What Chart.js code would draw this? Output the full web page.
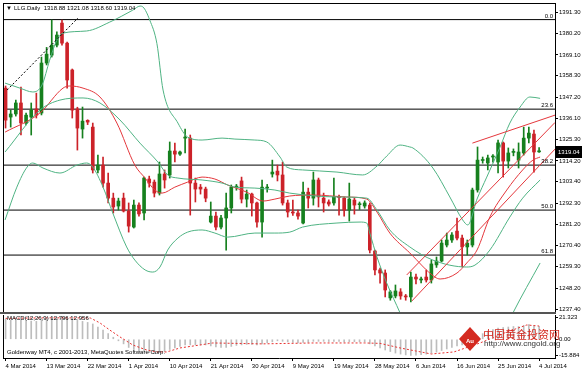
<!DOCTYPE html>
<html>
<head>
<meta charset="utf-8">
<script src="https://cdn.jsdelivr.net/npm/chart.js@4.4.1/dist/chart.umd.min.js"></script>
<style>
  body { margin: 0; background: #fff; }
  #wrap { position: relative; width: 582px; height: 371px; overflow: hidden; }
  canvas { position: absolute; left: 0; }
</style>
</head>
<body>
<div id="wrap">
  <canvas id="main" width="582" height="314" style="top:0"></canvas>
  <canvas id="macd" width="582" height="57" style="top:314px"></canvas>
</div>
<script>
const FONT = "'Liberation Sans', Arial, sans-serif";
const GREEN = '#16801e', RED = '#cc2229', BAND = '#4fb383', MA = '#e4373c';

// daily candles 4 Mar 2014 .. 4 Jul 2014
const opens = [
  1351.9, 1336.9, 1338.5, 1344.2, 1333.8, 1336.9, 1341.1, 1339.0, 1364.9, 1369.0,
  1374.2, 1385.6, 1375.2, 1361.3, 1341.1, 1330.7, 1335.2, 1331.7, 1309.5, 1312.0,
  1302.7, 1294.9, 1290.8, 1294.9, 1288.2, 1279.9, 1291.3, 1287.2, 1304.8, 1303.2,
  1297.5, 1307.4, 1306.9, 1319.3, 1317.7, 1326.0, 1326.0, 1302.7, 1300.6, 1299.6,
  1282.5, 1285.6, 1279.9, 1284.6, 1289.8, 1300.6, 1303.8, 1294.4, 1297.0, 1292.4,
  1282.5, 1300.1, 1307.4, 1308.9, 1306.9, 1292.4, 1287.7, 1287.2, 1282.0, 1298.0,
  1294.9, 1304.3, 1294.9, 1292.9, 1292.4, 1295.8, 1294.9, 1288.7, 1293.9, 1291.5,
  1290.8, 1291.3, 1267.5, 1257.7, 1256.1, 1243.2, 1244.2, 1246.3, 1243.9, 1243.7,
  1254.0, 1252.5, 1254.0, 1252.5, 1260.3, 1262.3, 1270.6, 1273.2, 1277.8, 1274.2,
  1269.6, 1270.6, 1299.1, 1314.4, 1313.1, 1316.2, 1313.6, 1323.5, 1314.1, 1318.6,
  1314.6, 1318.3, 1326.0, 1328.1, 1318.88
];
const highs = [
  1353.0, 1340.5, 1345.7, 1352.5, 1339.0, 1344.2, 1349.3, 1368.0, 1373.0, 1387.2,
  1381.0, 1387.2, 1375.7, 1361.8, 1342.0, 1342.1, 1335.5, 1333.8, 1317.2, 1316.2,
  1307.9, 1297.5, 1294.9, 1297.5, 1292.4, 1293.9, 1292.4, 1305.8, 1306.3, 1304.3,
  1313.6, 1309.5, 1324.0, 1323.4, 1319.3, 1330.7, 1327.6, 1305.3, 1302.0, 1300.6,
  1292.9, 1287.7, 1286.0, 1297.5, 1301.7, 1302.0, 1305.8, 1299.1, 1297.5, 1292.9,
  1304.3, 1302.0, 1314.6, 1312.0, 1313.6, 1293.9, 1293.9, 1288.7, 1303.2, 1300.1,
  1308.4, 1305.3, 1297.5, 1294.0, 1305.3, 1296.5, 1295.5, 1302.7, 1294.9, 1292.9,
  1293.5, 1292.4, 1268.0, 1258.7, 1257.7, 1247.0, 1249.9, 1248.0, 1245.0, 1256.6,
  1255.6, 1254.0, 1257.7, 1262.8, 1264.4, 1273.2, 1276.8, 1277.0, 1284.6, 1275.8,
  1273.2, 1300.1, 1321.4, 1316.2, 1317.2, 1317.4, 1325.0, 1324.0, 1320.9, 1320.4,
  1323.5, 1331.7, 1331.7, 1330.2, 1321.08
];
const lows = [
  1331.2, 1331.7, 1337.4, 1327.6, 1332.8, 1327.6, 1336.4, 1338.0, 1363.9, 1368.0,
  1373.2, 1374.2, 1351.9, 1336.4, 1319.8, 1326.0, 1333.0, 1307.9, 1307.9, 1300.6,
  1292.4, 1287.2, 1288.7, 1287.7, 1277.3, 1279.4, 1285.6, 1283.6, 1300.6, 1295.5,
  1296.5, 1300.1, 1305.3, 1313.6, 1317.0, 1318.3, 1286.1, 1292.9, 1297.0, 1293.0,
  1282.0, 1278.4, 1279.0, 1268.0, 1287.2, 1299.0, 1292.4, 1290.3, 1285.6, 1279.9,
  1274.7, 1298.0, 1305.8, 1303.8, 1291.3, 1285.1, 1286.0, 1284.0, 1281.5, 1289.8,
  1291.3, 1290.3, 1287.7, 1290.8, 1291.3, 1286.1, 1285.6, 1283.0, 1286.6, 1289.0,
  1289.7, 1266.5, 1255.1, 1250.9, 1243.7, 1242.0, 1243.2, 1242.5, 1242.0, 1241.1,
  1250.4, 1251.0, 1251.4, 1250.9, 1259.0, 1261.8, 1269.6, 1272.0, 1273.2, 1259.2,
  1265.4, 1269.6, 1298.0, 1313.0, 1309.5, 1313.5, 1307.9, 1305.8, 1310.5, 1316.8,
  1310.5, 1317.2, 1323.5, 1308.4, 1318.60
];
const closes = [
  1335.3, 1338.5, 1344.2, 1333.8, 1337.9, 1340.5, 1337.9, 1364.9, 1369.5, 1374.2,
  1379.4, 1375.2, 1356.1, 1340.5, 1331.2, 1334.8, 1334.3, 1309.5, 1312.0, 1302.7,
  1294.9, 1290.3, 1293.4, 1288.2, 1280.4, 1291.3, 1286.7, 1305.3, 1302.7, 1297.5,
  1307.4, 1304.3, 1319.3, 1317.7, 1318.8, 1326.2, 1302.7, 1299.6, 1299.6, 1294.9,
  1285.6, 1279.9, 1284.6, 1289.8, 1300.6, 1301.0, 1294.4, 1297.0, 1292.4, 1282.5,
  1300.6, 1300.6, 1308.4, 1306.9, 1292.4, 1287.7, 1287.2, 1285.6, 1298.0, 1294.9,
  1304.3, 1295.5, 1292.4, 1291.8, 1295.5, 1295.2, 1288.7, 1294.4, 1291.3, 1291.8,
  1292.4, 1268.0, 1257.7, 1256.1, 1247.3, 1246.3, 1246.8, 1244.2, 1243.7, 1254.0,
  1253.0, 1252.8, 1252.5, 1260.8, 1262.3, 1271.6, 1273.2, 1275.8, 1274.2, 1269.6,
  1271.6, 1299.1, 1314.6, 1314.9, 1315.7, 1316.5, 1323.5, 1314.1, 1318.3, 1319.0,
  1318.8, 1326.0, 1328.6, 1318.8, 1319.04
];

// x-axis dates (bar index -> label)
const dateIdx = [0, 8, 16, 24, 32, 40, 48, 56, 64, 72, 80, 88, 96, 104];
const dateLabels = ['4 Mar 2014', '13 Mar 2014', '22 Mar 2014', '1 Apr 2014', '10 Apr 2014', '21 Apr 2014',
  '30 Apr 2014', '9 May 2014', '19 May 2014', '28 May 2014', '6 Jun 2014', '16 Jun 2014', '25 Jun 2014', '4 Jul 2014'];
const priceTicks = [1391.30, 1380.20, 1369.10, 1358.30, 1347.20, 1336.10, 1325.30, 1314.20,
  1303.40, 1292.30, 1281.20, 1270.40, 1259.30, 1248.20, 1237.40];

// fibonacci retracement levels
const fibLevels = [1387.4, 1341.0, 1312.0, 1288.7, 1265.4];
const fibLabels = ['0.0', '23.6', '38.2', '50.0', '61.8'];

// indicator curves (bar index, price)
const bbUpper = [
  {x: -0.1, y: 1354.5}, {x: 2.8, y: 1351.9}, {x: 5.3, y: 1349.9}, {x: 7.1, y: 1353.5}, {x: 8.6, y: 1366.4},
  {x: 10.0, y: 1376.8}, {x: 11.2, y: 1380.4}, {x: 15.8, y: 1381.5}, {x: 20.3, y: 1386.1}, {x: 24.8, y: 1392.3},
  {x: 26.2, y: 1394.4}, {x: 26.8, y: 1393.9}, {x: 28.1, y: 1387.2}, {x: 29.5, y: 1375.0}, {x: 30.7, y: 1350.9},
  {x: 33.6, y: 1333.8}, {x: 35.5, y: 1326.5}, {x: 38.3, y: 1325.0}, {x: 42.2, y: 1326.0}, {x: 44.7, y: 1325.5},
  {x: 48.6, y: 1325.0}, {x: 50.9, y: 1324.0}, {x: 53.5, y: 1316.2}, {x: 54.8, y: 1311.0}, {x: 57.9, y: 1309.5},
  {x: 64.6, y: 1308.4}, {x: 69.6, y: 1306.9}, {x: 72.4, y: 1311.5}, {x: 74.3, y: 1316.7}, {x: 76.9, y: 1322.4},
  {x: 78.8, y: 1321.4}, {x: 79.4, y: 1320.9}, {x: 83.3, y: 1310.5}, {x: 86.6, y: 1295.5}, {x: 89.1, y: 1283.6},
  {x: 90.1, y: 1281.0}, {x: 91.9, y: 1294.4}, {x: 93.8, y: 1305.8}, {x: 96.4, y: 1321.4}, {x: 98.3, y: 1333.8},
  {x: 100.3, y: 1342.1}, {x: 102.2, y: 1347.3}, {x: 104.2, y: 1346.6}
];
const bbMiddle = [
  {x: -0.1, y: 1318.8}, {x: 6.7, y: 1340.5}, {x: 10.6, y: 1345.7}, {x: 15.1, y: 1346.8}, {x: 18.4, y: 1344.2},
  {x: 22.3, y: 1335.4}, {x: 26.2, y: 1323.4}, {x: 29.7, y: 1313.6}, {x: 31.6, y: 1306.9}, {x: 33.6, y: 1305.3},
  {x: 38.3, y: 1304.3}, {x: 42.2, y: 1302.7}, {x: 44.7, y: 1300.6}, {x: 48.6, y: 1300.1}, {x: 52.5, y: 1299.1},
  {x: 55.4, y: 1297.5}, {x: 64.6, y: 1295.5}, {x: 70.4, y: 1294.9}, {x: 72.4, y: 1288.7}, {x: 74.9, y: 1278.4},
  {x: 78.8, y: 1269.6}, {x: 83.3, y: 1262.8}, {x: 89.9, y: 1259.2}, {x: 91.5, y: 1260.2}, {x: 94.4, y: 1268.0},
  {x: 98.3, y: 1285.1}, {x: 100.8, y: 1294.9}, {x: 104.2, y: 1304.3}
];
const bbLower = [
  {x: -0.1, y: 1283.6}, {x: 2.2, y: 1300.6}, {x: 4.2, y: 1311.0}, {x: 5.3, y: 1313.1}, {x: 7.3, y: 1310.5},
  {x: 10.6, y: 1307.9}, {x: 13.9, y: 1312.0}, {x: 15.8, y: 1313.1}, {x: 17.0, y: 1311.0}, {x: 19.0, y: 1300.6},
  {x: 20.9, y: 1287.2}, {x: 23.6, y: 1269.6}, {x: 25.2, y: 1262.8}, {x: 27.2, y: 1257.7}, {x: 28.7, y: 1256.6},
  {x: 30.1, y: 1259.2}, {x: 31.6, y: 1268.0}, {x: 33.6, y: 1274.2}, {x: 35.5, y: 1277.3}, {x: 38.3, y: 1278.4},
  {x: 40.8, y: 1276.8}, {x: 43.3, y: 1274.7}, {x: 48.6, y: 1276.8}, {x: 52.5, y: 1276.8}, {x: 55.4, y: 1277.3},
  {x: 57.9, y: 1279.9}, {x: 64.6, y: 1282.0}, {x: 69.1, y: 1282.5}, {x: 70.4, y: 1282.0}, {x: 71.0, y: 1276.8},
  {x: 72.4, y: 1264.4}, {x: 74.3, y: 1250.9}, {x: 76.9, y: 1235.4}, {x: 77.6, y: 1231.0}, {x: 88.0, y: null},
  {x: 98.3, y: 1232.0}, {x: 98.9, y: 1235.4}, {x: 104.2, y: 1261.3}
];
const maLine = [
  {x: -0.1, y: 1329.1}, {x: 6.7, y: 1339.0}, {x: 11.2, y: 1351.9}, {x: 12.5, y: 1353.0}, {x: 15.1, y: 1351.9},
  {x: 18.4, y: 1347.3}, {x: 21.7, y: 1333.8}, {x: 25.2, y: 1312.0}, {x: 27.2, y: 1305.3}, {x: 29.1, y: 1299.1},
  {x: 30.5, y: 1297.5}, {x: 33.0, y: 1300.6}, {x: 35.5, y: 1303.2}, {x: 38.3, y: 1305.8}, {x: 40.8, y: 1304.8},
  {x: 43.3, y: 1301.7}, {x: 47.0, y: 1298.0}, {x: 50.2, y: 1293.4}, {x: 52.5, y: 1294.4}, {x: 55.4, y: 1296.0},
  {x: 59.9, y: 1296.5}, {x: 66.5, y: 1295.5}, {x: 70.4, y: 1294.4}, {x: 72.4, y: 1287.7}, {x: 74.9, y: 1276.8},
  {x: 78.8, y: 1266.5}, {x: 83.7, y: 1254.0}, {x: 84.7, y: 1253.0}, {x: 88.0, y: 1256.1}, {x: 89.9, y: 1261.3},
  {x: 91.9, y: 1268.0}, {x: 94.4, y: 1285.1}, {x: 97.7, y: 1299.1}, {x: 100.8, y: 1309.5}, {x: 102.8, y: 1314.6},
  {x: 104.2, y: 1316.2}
];

// hand-drawn trend lines (bar index, price)
const trendTop = [{x: 91.0, y: 1323.4}, {x: 107.1, y: 1337.9}];
const channelA = [{x: 78.2, y: 1255.1}, {x: 107.1, y: 1334.1}];
const channelB = [{x: 79.2, y: 1241.6}, {x: 107.1, y: 1320.3}];
const dashTrend = [{x: 0.3, y: 1350.9}, {x: 14.1, y: 1388.2}];

// MACD(12,26,9)
const macdMain = [
  19.5, 19.0, 18.8, 18.5, 18.0, 17.8, 17.5, 19.0, 20.0, 21.0,
  21.3, 21.3, 20.5, 19.5, 18.5, 17.5, 16.5, 15.0, 12.0, 9.0,
  5.5, 2.0, -1.5, -4.5, -8.0, -10.0, -12.0, -12.5, -13.0, -13.5,
  -13.0, -12.0, -10.0, -8.5, -7.0, -5.5, -5.5, -5.5, -5.5, -5.5,
  -6.5, -7.5, -8.0, -8.0, -7.0, -6.0, -5.5, -5.0, -5.0, -5.5,
  -4.5, -3.5, -2.5, -1.5, -2.0, -2.5, -3.0, -3.5, -3.0, -3.0,
  -2.0, -2.0, -2.0, -2.2, -2.2, -2.2, -2.5, -2.3, -2.4, -2.5,
  -2.5, -4.5, -6.5, -8.5, -10.5, -12.0, -13.5, -14.5, -15.3, -15.884,
  -15.5, -15.0, -14.5, -13.5, -12.5, -11.0, -9.5, -8.0, -6.5, -5.5,
  -4.5, -1.0, 3.0, 5.5, 8.0, 9.5, 11.0, 11.5, 12.0, 12.5,
  12.5, 13.5, 14.5, 13.5, 12.796
];
const macdSignal = [
  {x: 0, y: 20.5}, {x: 8, y: 21.0}, {x: 16.5, y: 20.9}, {x: 18.4, y: 16.0}, {x: 20.3, y: 9.1},
  {x: 22.3, y: 2.3}, {x: 24.8, y: -5.6}, {x: 27.5, y: -10.5}, {x: 29.5, y: -12.4}, {x: 31.4, y: -12.4},
  {x: 34.0, y: -8.5}, {x: 37.9, y: -5.6}, {x: 40.4, y: -3.6}, {x: 50, y: -4.5}, {x: 60, y: -3.6},
  {x: 70, y: -3.6}, {x: 73, y: -4.0}, {x: 76.9, y: -8.5}, {x: 83, y: -14.4}, {x: 87.4, y: -12.4},
  {x: 92.5, y: -3.6}, {x: 97.7, y: 7.1}, {x: 101.6, y: 14.0}, {x: 104, y: 12.956}
];
const macdTicks = [21.323, 0, -15.884];

const X_MIN = -0.5, X_MAX = 107.1;
const last = closes.length - 1;
const candleColors = closes.map((c, i) => c >= opens[i] ? GREEN : RED);

const line = (data, color, extra) => Object.assign({
  type: 'line', data, borderColor: color, borderWidth: 1, pointRadius: 0, fill: false
}, extra || {});

const mainDeco = {
  id: 'mainDeco',
  afterDraw(chart) {
    const {ctx, chartArea: a, scales: {y}} = chart;
    ctx.save();
    ctx.strokeStyle = '#000';
    ctx.lineWidth = 1;
    ctx.beginPath();
    ctx.moveTo(a.left + 0.5, a.top);
    ctx.lineTo(a.left + 0.5, a.bottom);
    ctx.moveTo(a.left, a.top + 0.5);
    ctx.lineTo(a.right, a.top + 0.5);
    ctx.stroke();
    ctx.fillStyle = '#555';
    ctx.fillRect(0, a.bottom, a.right + 1, 2);

    ctx.font = '6px ' + FONT;
    ctx.fillStyle = '#000';
    ctx.textAlign = 'right';
    ctx.textBaseline = 'alphabetic';
    fibLevels.forEach((v, i) => ctx.fillText(fibLabels[i], a.right - 2, y.getPixelForValue(v) - 2));

    ctx.textAlign = 'left';
    ctx.textBaseline = 'middle';
    ctx.fillText('\u25BC', 6, 8);
    const ohlc = [opens, highs, lows, closes].map(s => s[last].toFixed(2)).join(' ');
    ctx.fillText('LLG.Daily  ' + ohlc, 14, 8);

    const py = Math.round(y.getPixelForValue(closes[last]));
    ctx.fillStyle = '#000';
    ctx.fillRect(a.right + 1, py - 6, 27, 12);
    ctx.fillStyle = '#fff';
    ctx.fillText(closes[last].toFixed(2), a.right + 3, py);
    ctx.restore();
  }
};

new Chart(document.getElementById('main'), {
  type: 'bar',
  data: {
    datasets: [
      ...fibLevels.map(v => line([{x: X_MIN, y: v}, {x: X_MAX, y: v}], '#000', {order: 9})),
      {data: lows.map((l, i) => ({x: i, y: [l, highs[i]]})), backgroundColor: candleColors,
        barThickness: 1, grouped: false, order: 4},
      {data: opens.map((o, i) => ({x: i, y: [o, closes[i]]})), backgroundColor: candleColors,
        barThickness: 3, minBarLength: 1, grouped: false, order: 3},
      line(bbUpper, BAND, {cubicInterpolationMode: 'monotone', order: 1}),
      line(bbMiddle, BAND, {cubicInterpolationMode: 'monotone', order: 1}),
      line(bbLower, BAND, {cubicInterpolationMode: 'monotone', order: 1, spanGaps: false}),
      line(maLine, MA, {cubicInterpolationMode: 'monotone', order: 1}),
      line(trendTop, MA, {order: 0}),
      line(channelA, MA, {order: 0}),
      line(channelB, MA, {order: 0}),
      line(dashTrend, '#000', {borderDash: [2, 2], order: 0})
    ]
  },
  options: {
    responsive: false,
    animation: false,
    events: [],
    layout: {padding: {left: 3, top: 3, right: 0, bottom: 2}},
    plugins: {legend: {display: false}, tooltip: {enabled: false}},
    scales: {
      x: {type: 'linear', min: X_MIN, max: X_MAX, offset: false, display: false},
      y: {
        position: 'right', min: 1235.9, max: 1396.0,
        afterBuildTicks: s => { s.ticks = priceTicks.map(v => ({value: v})); },
        afterFit: s => { s.width = 27; s.paddingTop = 0; s.paddingBottom = 0; },
        ticks: {font: {family: FONT, size: 6}, color: '#000', padding: 1, autoSkip: false,
          callback: v => v.toFixed(2)},
        grid: {drawOnChartArea: false, tickLength: 3, color: '#000'},
        border: {color: '#000'}
      }
    }
  },
  plugins: [mainDeco]
});

const macdDeco = {
  id: 'macdDeco',
  afterDraw(chart) {
    const {ctx, chartArea: a} = chart;
    ctx.save();
    ctx.strokeStyle = '#000';
    ctx.lineWidth = 1;
    ctx.beginPath();
    ctx.moveTo(a.left + 0.5, a.top);
    ctx.lineTo(a.left + 0.5, a.bottom);
    ctx.stroke();
    ctx.fillStyle = '#000';
    ctx.font = '6px ' + FONT;
    ctx.textBaseline = 'middle';
    ctx.fillText('MACD(12,26,9) ' + macdMain[last].toFixed(3) + ' ' + macdSignal[macdSignal.length - 1].y.toFixed(3), 7, 4);
    ctx.fillText('Goldenway MT4, c 2001-2013, MetaQuotes Software Corp.', 7, 38);

    // cngold watermark
    const cx = 470, cy = 25;
    ctx.fillStyle = '#d42a20';
    ctx.beginPath();
    ctx.moveTo(cx, cy - 12); ctx.lineTo(cx + 11, cy); ctx.lineTo(cx, cy + 12); ctx.lineTo(cx - 11, cy);
    ctx.closePath();
    ctx.fill();
    ctx.fillStyle = '#fff';
    ctx.font = 'bold 6px ' + FONT;
    ctx.textAlign = 'center';
    ctx.fillText('Au', cx, cy + 2);
    ctx.textAlign = 'left';
    ctx.fillStyle = '#d42a20';
    ctx.font = "11px 'Noto Sans CJK SC', sans-serif";
    ctx.fillText('中国黄金投资网', 483, 21);
    ctx.fillStyle = '#333';
    ctx.font = '8px ' + FONT;
    ctx.fillText('http://www.cngold.org', 484, 30);
    ctx.restore();
  }
};

new Chart(document.getElementById('macd'), {
  type: 'bar',
  data: {
    datasets: [
      {data: macdMain.map((v, i) => ({x: i, y: v})), backgroundColor: '#bdbdbd', barThickness: 1, order: 2},
      line(macdSignal, '#e8312f', {borderDash: [2, 2], order: 1})
    ]
  },
  options: {
    responsive: false,
    animation: false,
    events: [],
    layout: {padding: {left: 3, top: 1, right: 0, bottom: 0}},
    plugins: {legend: {display: false}, tooltip: {enabled: false}},
    scales: {
      x: {
        type: 'linear', min: X_MIN, max: X_MAX, offset: false,
        afterBuildTicks: s => { s.ticks = dateIdx.map(v => ({value: v})); },
        afterFit: s => { s.height = 13; s.paddingLeft = 0; s.paddingRight = 0; },
        ticks: {font: {family: FONT, size: 6}, color: '#000', padding: 2, align: 'start',
          maxRotation: 0, autoSkip: false, callback: v => dateLabels[dateIdx.indexOf(v)]},
        grid: {drawOnChartArea: false, offset: false, tickLength: 3, color: '#000'},
        border: {color: '#000'}
      },
      y: {
        position: 'right', min: -18.33, max: 23.77,
        afterBuildTicks: s => { s.ticks = macdTicks.map(v => ({value: v})); },
        afterFit: s => { s.width = 27; s.paddingTop = 0; s.paddingBottom = 0; },
        ticks: {font: {family: FONT, size: 6}, color: '#000', padding: 1, autoSkip: false,
          callback: v => v === 0 ? '0.00' : String(v)},
        grid: {drawOnChartArea: false, tickLength: 3, color: '#000'},
        border: {color: '#000'}
      }
    }
  },
  plugins: [macdDeco]
});
</script>
</body>
</html>
